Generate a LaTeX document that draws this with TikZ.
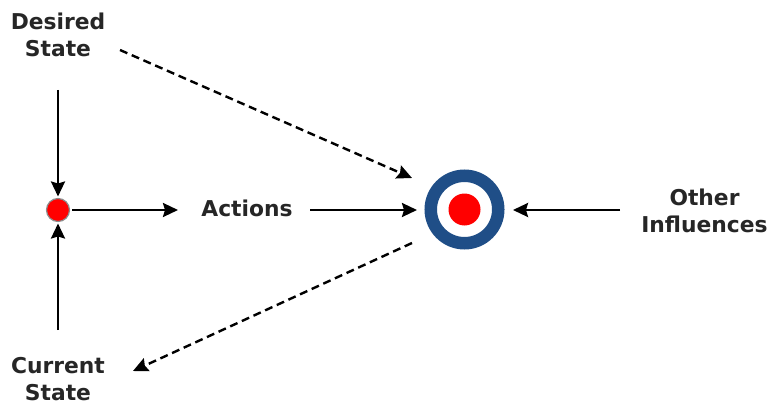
\documentclass[tikz,border=0pt]{standalone}
\usepackage{fontspec}
\setmainfont{DejaVu Sans}
\usetikzlibrary{arrows.meta}
\definecolor{ringblue}{RGB}{31,78,135}
\tikzset{
  lab/.style={font=\bfseries\fontsize{21.8}{27}\selectfont,text=black!85,align=center,inner sep=0pt},
  con/.style={line width=2.4pt,-{Stealth[length=15pt,width=14pt,inset=2pt]}},
  dcon/.style={con,dash pattern=on 8pt off 4.8pt}
}
\begin{document}
\begin{tikzpicture}[x=1pt,y=-1pt]
	  \useasboundingbox (0,0) rectangle (770,406);
	  \node (DS) [lab] at (58,35) {Desired\\State};
	  \node (CS) [lab] at (58,379.5) {Current\\State};
	  \node (AC) [lab] at (247,208) {Actions};
	  \node (OI) [lab] at (704.5,211) {Other\\Influences};
	  \node (SP) [draw=black!45,line width=1.2pt,fill=red,circle,minimum size=23pt,inner sep=0pt,outer sep=2pt] at (58,210) {};
	  \node (TG) [draw=ringblue,line width=12.5pt,fill=white,circle,minimum size=67.5pt,inner sep=0pt] at (464.5,209.5) {};
	  \node (BL) [fill=red,circle,minimum size=32pt,inner sep=0pt] at (464.5,209.5) {};
	  \coordinate (a1) at (58,90);
	  \coordinate (a2) at (58,330);
	  \coordinate (a3) at (72,210);
	  \coordinate (a4) at (178,210);
	  \coordinate (a5) at (310,210);
	  \coordinate (a6) at (417,210);
	  \coordinate (a7) at (620,210);
	  \coordinate (a8) at (513,210);
	  \coordinate (d1) at (120,50);
	  \coordinate (d2) at (412,178);
	  \coordinate (d3) at (412,243);
	  \coordinate (d4) at (133,371);
	  \draw [con] (a1) -- (SP);
	  \draw [con] (a2) -- (SP);
	  \draw [con] (a3) -- (a4);
	  \draw [con] (a5) -- (a6);
	  \draw [con] (a7) -- (a8);
	  \draw [dcon] (d1) -- (d2);
	  \draw [dcon] (d3) -- (d4);
	\end{tikzpicture}
\end{document}
